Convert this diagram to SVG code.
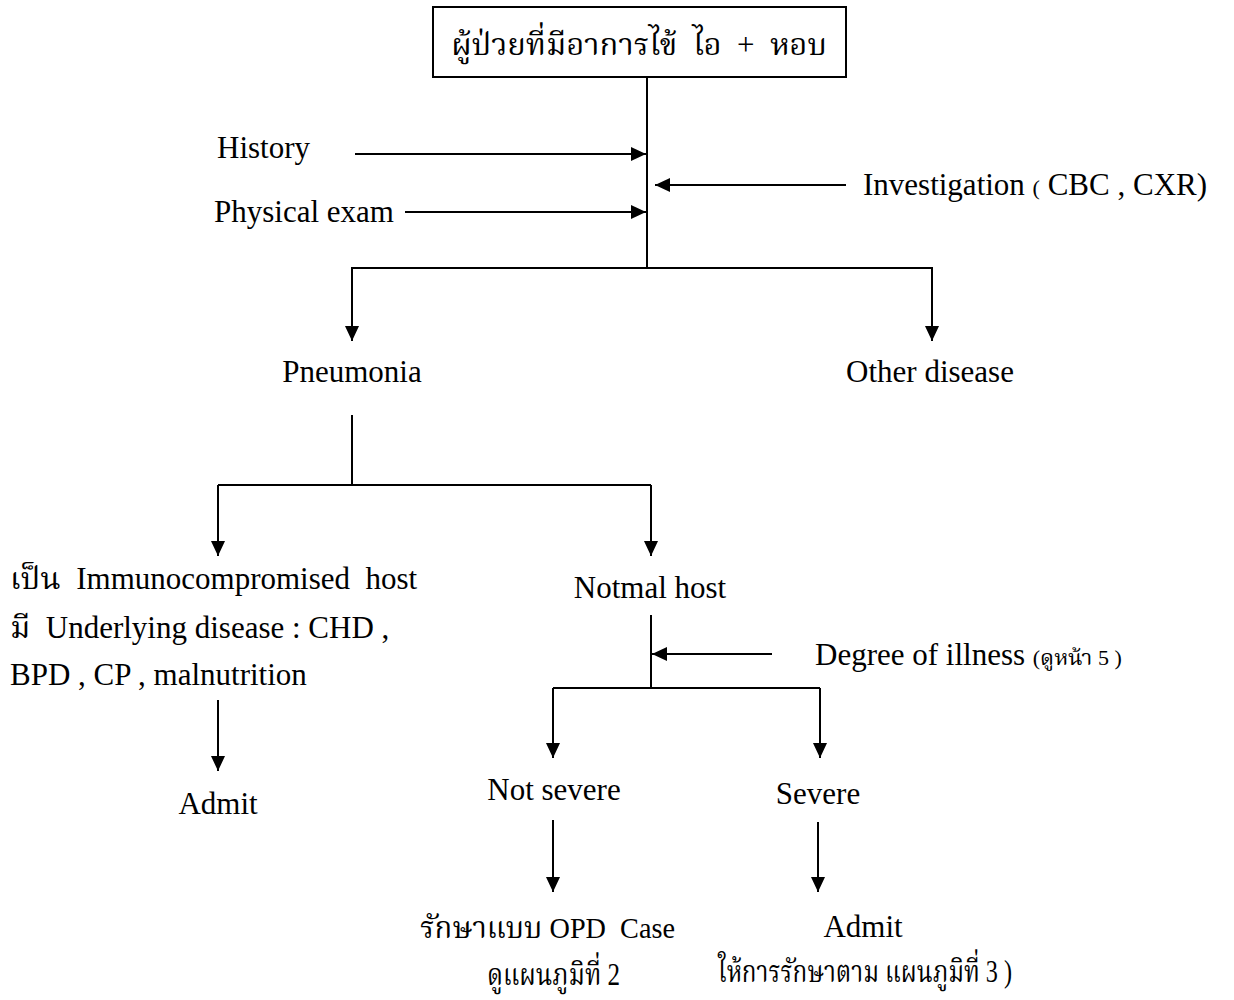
<svg xmlns="http://www.w3.org/2000/svg" width="1234" height="1000" viewBox="0 0 1234 1000" xml:space="preserve">
<defs>
<marker id="ah" viewBox="0 0 15 14" refX="15" refY="7" markerWidth="15" markerHeight="14" markerUnits="userSpaceOnUse" orient="auto">
<path d="M0,0 L15,7 L0,14 Z" fill="#000"/>
</marker>
<style>
text{font-family:"Liberation Serif","Noto Serif Thai","Noto Sans Thai","Noto Sans",serif;font-size:31px;fill:#000;white-space:pre}
.s{font-size:22px}
.c{text-anchor:middle}
.ln{stroke:#000;stroke-width:2;fill:none}
.ar{stroke:#000;stroke-width:2;fill:none;marker-end:url(#ah)}
</style>
</defs>
<rect width="1234" height="1000" fill="#fff"/>
<g id="connectors">
<line class="ln" x1="647" y1="77" x2="647" y2="268"/>
<line class="ar" x1="355" y1="154" x2="646" y2="154"/>
<line class="ar" x1="405" y1="212" x2="646" y2="212"/>
<line class="ar" x1="846" y1="185" x2="655" y2="185"/>
<polyline class="ln" points="352,330 352,268 932,268 932,330"/>
<line class="ar" x1="352" y1="300" x2="352" y2="341"/>
<line class="ar" x1="932" y1="300" x2="932" y2="341"/>
<line class="ln" x1="352" y1="415" x2="352" y2="485"/>
<line class="ln" x1="218" y1="485" x2="651" y2="485"/>
<line class="ar" x1="218" y1="485" x2="218" y2="556"/>
<line class="ar" x1="651" y1="485" x2="651" y2="556"/>
<line class="ar" x1="218" y1="700" x2="218" y2="771"/>
<line class="ln" x1="651" y1="615" x2="651" y2="688"/>
<line class="ar" x1="772" y1="654" x2="652" y2="654"/>
<line class="ln" x1="553" y1="688" x2="820" y2="688"/>
<line class="ar" x1="553" y1="688" x2="553" y2="758"/>
<line class="ar" x1="820" y1="688" x2="820" y2="758"/>
<line class="ar" x1="553" y1="820" x2="553" y2="892"/>
<line class="ar" x1="818" y1="822" x2="818" y2="892"/>
</g>
<g id="start">
<rect x="433" y="7" width="413" height="70" fill="#fff" stroke="#000" stroke-width="2"/>
<text x="639" y="55" class="c">ผู้ป่วยที่มีอาการไข้  ไอ  +  หอบ</text>
</g>
<g id="history"><text x="217" y="158">History</text></g>
<g id="physical"><text x="214" y="222">Physical exam</text></g>
<g id="investigation"><text x="863" y="195">Investigation <tspan class="s">(</tspan> CBC , CXR)</text></g>
<g id="pneumonia"><text x="352" y="382" class="c">Pneumonia</text></g>
<g id="other"><text x="930" y="382" class="c">Other disease</text></g>
<g id="immuno">
<text x="10" y="589">เป็น  Immunocompromised  host</text>
<text x="10" y="638">มี  Underlying disease : CHD ,</text>
<text x="10" y="685">BPD , CP , malnutrition</text>
</g>
<g id="admit1"><text x="218" y="814" class="c">Admit</text></g>
<g id="normal"><text x="650" y="598" class="c">Notmal host</text></g>
<g id="degree"><text x="815" y="665">Degree of illness <tspan class="s">(ดูหน้า 5 )</tspan></text></g>
<g id="notsevere"><text x="554" y="800" class="c">Not severe</text></g>
<g id="severe"><text x="818" y="804" class="c">Severe</text></g>
<g id="opd">
<text x="420" y="938" font-size="26" textLength="255" lengthAdjust="spacingAndGlyphs">รักษาแบบ <tspan font-size="30">OPD  Case</tspan></text>
<text x="487" y="985" font-size="26" textLength="133" lengthAdjust="spacingAndGlyphs">ดูแผนภูมิที่ 2</text>
</g>
<g id="admit2">
<text x="863" y="937" class="c">Admit</text>
<text x="718" y="982" font-size="26" textLength="294" lengthAdjust="spacingAndGlyphs">ให้การรักษาตาม แผนภูมิที่ 3 )</text>
</g>
</svg>
